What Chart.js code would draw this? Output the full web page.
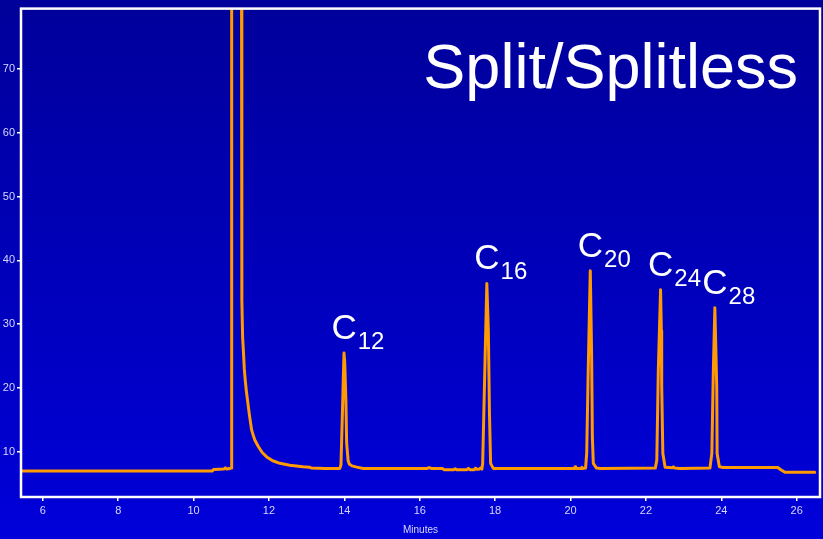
<!DOCTYPE html>
<html>
<head>
<meta charset="utf-8">
<script src="https://cdn.jsdelivr.net/npm/chart.js@4/dist/chart.umd.min.js"></script>
<style>
  html, body { margin: 0; padding: 0; background: #0000b8; }
  #wrap { width: 823px; height: 539px; }
</style>
</head>
<body>
<div id="wrap"><canvas id="gc" width="823" height="539"></canvas></div>
<script>
// Retention time (minutes) and detector response, segment by segment
const retentionMin = [
  5.42, 10.50, 10.53, 10.80, 10.84, 10.88, 10.96, 11.00, 11.01,                  // baseline, solvent front
  11.26, 11.28, 11.30, 11.32, 11.345, 11.37, 11.40, 11.43, 11.48, 11.54, 11.62,
  11.72, 11.82, 11.94, 12.10, 12.29, 12.55, 12.90, 13.08, 13.12, 13.50,          // solvent tail
  13.88, 13.91, 13.95, 13.99, 14.01, 14.04, 14.06, 14.10, 14.13, 14.20, 14.33, 14.50, // C12
  16.20, 16.25, 16.30, 16.60, 16.65, 16.90, 16.94, 16.98, 17.25, 17.29, 17.33, 17.45, 17.48, 17.52, 17.58, 17.62, 17.65,
  17.67, 17.71, 17.78, 17.82, 17.85, 17.88, 17.95, 18.10,                        // C16
  20.10, 20.12, 20.14, 20.28, 20.30, 20.32, 20.40,
  20.43, 20.47, 20.525, 20.56, 20.58, 20.605, 20.69, 20.80,                       // C20
  22.25, 22.29, 22.33, 22.39, 22.41, 22.42, 22.45, 22.51, 22.60, 22.70, 22.73, 22.76, 22.90, // C24
  23.70, 23.75, 23.79, 23.83, 23.88, 23.89, 23.95, 24.05,                        // C28
  25.50, 25.58, 25.69, 26.48
];
const detectorResp = [
  7.0, 7.0, 7.25, 7.3, 7.5, 7.3, 7.4, 7.45, 150,
  150, 33.7, 28.0, 25.9, 23.0, 21.2, 19.5, 18.1, 15.8, 13.4, 11.9,
  10.8, 9.9, 9.2, 8.6, 8.2, 7.9, 7.65, 7.6, 7.45, 7.4,
  7.4, 8.0, 16.5, 25.5, 24.0, 18.1, 11.4, 8.6, 8.1, 7.8, 7.6, 7.4,
  7.4, 7.55, 7.4, 7.4, 7.2, 7.2, 7.35, 7.2, 7.2, 7.4, 7.2, 7.2, 7.45, 7.25, 7.3, 7.5, 7.3,
  8.2, 18.6, 36.4, 29.0, 16.0, 8.2, 7.4, 7.4,
  7.4, 7.65, 7.4, 7.4, 7.6, 7.4, 7.45,
  9.75, 22.8, 38.4, 25.4, 12.3, 8.2, 7.45, 7.4,
  7.45, 8.7, 22.8, 35.4, 29.0, 20.2, 9.75, 7.6, 7.55, 7.5, 7.65, 7.45, 7.4,
  7.45, 9.75, 22.8, 32.6, 20.2, 9.75, 7.65, 7.55,
  7.55, 7.2, 6.8, 6.8
];

// n-alkane peaks: approximate apex time and carbon number
const peakTimes = [13.99, 17.78, 20.525, 22.39, 23.83];
const peakCarbons = ['12', '16', '20', '24', '28'];

const chartTitle = 'Split/Splitless';
const xAxisTitle = 'Minutes';

const FONT = "'Liberation Sans', Arial, Helvetica, sans-serif";
const TICK_COLOR = '#d6d6ff';

const points = retentionMin.map((t, i) => ({ x: t, y: detectorResp[i] }));

const decorPlugin = {
  id: 'decor',
  beforeDraw(chart) {
    const { ctx, width, height } = chart;
    const g = ctx.createLinearGradient(0, 0, 0, height);
    g.addColorStop(0, '#00009a');
    g.addColorStop(1, '#0000da');
    ctx.save();
    ctx.fillStyle = g;
    ctx.fillRect(0, 0, width, height);
    ctx.restore();
  },
  afterDraw(chart) {
    const { ctx, chartArea: a, scales } = chart;
    ctx.save();
    // plot frame
    ctx.strokeStyle = '#ffffff';
    ctx.lineWidth = 2.5;
    ctx.strokeRect(a.left, a.top, a.right - a.left, a.bottom - a.top);

    // title
    ctx.fillStyle = '#ffffff';
    ctx.font = '63px ' + FONT;
    ctx.textAlign = 'right';
    ctx.textBaseline = 'alphabetic';
    ctx.fillText(chartTitle, 798, 88);

    // peak labels: C with subscript carbon number above each apex
    ctx.textAlign = 'left';
    peakTimes.forEach((t, k) => {
      let best = -Infinity, bt = t;
      retentionMin.forEach((m, i) => {
        if (Math.abs(m - t) < 0.08 && detectorResp[i] > best) { best = detectorResp[i]; bt = m; }
      });
      const px = scales.x.getPixelForValue(bt);
      const py = scales.y.getPixelForValue(best);
      const cx = px - 12.5, cy = py - 14;
      ctx.font = '35px ' + FONT;
      ctx.fillText('C', cx, cy);
      const w = ctx.measureText('C').width;
      ctx.font = '24px ' + FONT;
      ctx.fillText(peakCarbons[k], cx + w + 1, cy + 10);
    });
    ctx.restore();
  }
};

new Chart(document.getElementById('gc'), {
  type: 'line',
  data: {
    datasets: [{
      data: points,
      borderColor: '#ff9a00',
      borderWidth: 3,
      borderJoinStyle: 'round',
      borderCapStyle: 'round',
      pointRadius: 0,
      tension: 0,
      fill: false,
      clip: 0
    }]
  },
  options: {
    responsive: false,
    animation: false,
    events: [],
    layout: { padding: { top: 7, right: 3, left: 0, bottom: 0 } },
    plugins: { legend: { display: false }, tooltip: { enabled: false }, title: { display: false } },
    scales: {
      x: {
        type: 'linear',
        min: 5.42,
        max: 26.62,
        afterFit(s) { s.height = 42; },
        ticks: {
          stepSize: 2, includeBounds: false, color: TICK_COLOR,
          font: { family: FONT, size: 11 }, padding: 3, maxRotation: 0
        },
        grid: { drawOnChartArea: false, drawTicks: true, tickLength: 4, color: '#ffffff', lineWidth: 1.5 },
        border: { display: false },
        title: {
          display: true, text: xAxisTitle, color: TICK_COLOR,
          font: { family: FONT, size: 10 }, padding: { top: 0, bottom: 3 }
        }
      },
      y: {
        type: 'linear',
        min: 2.92,
        max: 79.48,
        afterFit(s) { s.width = 21; },
        ticks: {
          stepSize: 10, includeBounds: false, color: TICK_COLOR,
          font: { family: FONT, size: 11 }, padding: 2
        },
        grid: { drawOnChartArea: false, drawTicks: true, tickLength: 4, color: '#ffffff', lineWidth: 1.5 },
        border: { display: false }
      }
    }
  },
  plugins: [decorPlugin]
});
</script>
</body>
</html>
